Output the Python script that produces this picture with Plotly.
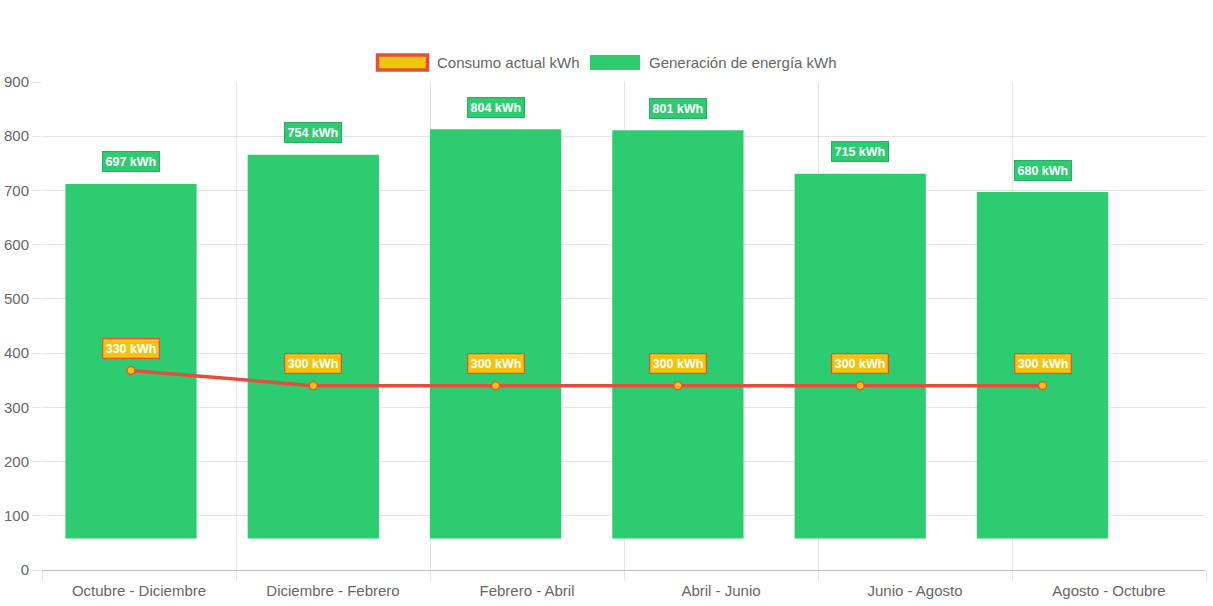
import plotly.graph_objects as go

# ---- data ----
periods = ["Octubre - Diciembre", "Diciembre - Febrero", "Febrero - Abril",
           "Abril - Junio", "Junio - Agosto", "Agosto - Octubre"]
gen_top = [712, 766, 813, 811, 731, 697]          # bar tops as drawn
gen_base = [58, 58, 58, 58, 58, 58]                # bar bottoms as drawn
gen_labels = [697, 754, 804, 801, 715, 680]        # label values
cons_values = [368, 340, 340, 340, 340, 340]       # line points as drawn
cons_labels = [330, 300, 300, 300, 300, 300]       # label values

GREEN = "#2ecc71"
GREEN_DARK = "#27ae60"
YELLOW = "#f1c40f"
RED = "#e74c3c"
FONT = "Liberation Sans, Arial, sans-serif"

W, H = 1213, 606
L, R, T, B = 42, 7, 82, 36
pw, ph = W - L - R, H - T - B

def px(x):
    # page pixel -> paper fraction
    return (x - L) / pw

def py(y):
    return (H - B - y) / ph

fig = go.Figure()

# invisible trace anchoring the labelled category axis
fig.add_trace(go.Scatter(x=periods, y=[None] * len(periods), xaxis="x", yaxis="y",
                         mode="markers", showlegend=False, hoverinfo="skip"))

fig.add_trace(go.Bar(
    x=periods, y=[t - b for t, b in zip(gen_top, gen_base)], base=gen_base,
    xaxis="x2", yaxis="y", marker=dict(color=GREEN, line=dict(width=0)),
    width=0.72, name="Generación de energía kWh", showlegend=False,
    hoverinfo="skip",
))
fig.add_trace(go.Scatter(
    x=periods, y=cons_values, xaxis="x2", yaxis="y", mode="lines+markers",
    line=dict(color=RED, width=3.5),
    marker=dict(size=8, color=YELLOW, line=dict(color=RED, width=1.2)),
    name="Consumo actual kWh", showlegend=False, hoverinfo="skip",
))

annotations = []
for p, v, lab in zip(periods, gen_top, gen_labels):
    annotations.append(dict(
        x=p, y=v, xref="x2", yref="y", text=f"<b>{lab} kWh</b>", showarrow=False,
        yshift=22, font=dict(family=FONT, size=12.5, color="white"),
        bgcolor=GREEN, bordercolor=GREEN_DARK, borderwidth=1, borderpad=2.5,
    ))
for p, v, lab in zip(periods, cons_values, cons_labels):
    annotations.append(dict(
        x=p, y=v, xref="x2", yref="y", text=f"<b>{lab} kWh</b>", showarrow=False,
        yshift=22, font=dict(family=FONT, size=12.5, color="white"),
        bgcolor=YELLOW, bordercolor=RED, borderwidth=1.2, borderpad=2.5,
    ))

# custom legend
shapes = [
    dict(type="rect", xref="paper", yref="paper", x0=px(377.5), x1=px(427.5),
         y0=py(70), y1=py(55), fillcolor=YELLOW, line=dict(color=RED, width=3.5)),
    dict(type="rect", xref="paper", yref="paper", x0=px(590), x1=px(640),
         y0=py(70), y1=py(55), fillcolor=GREEN, line=dict(color=GREEN, width=0)),
]
annotations.append(dict(x=px(435), y=py(62.5), xref="paper", yref="paper",
                        text="Consumo actual kWh", showarrow=False, xanchor="left",
                        yanchor="middle", font=dict(family=FONT, size=15, color="#666")))
annotations.append(dict(x=px(647), y=py(62.5), xref="paper", yref="paper",
                        text="Generación de energía kWh", showarrow=False, xanchor="left",
                        yanchor="middle", font=dict(family=FONT, size=15, color="#666")))

n = len(periods)
r0 = -(131 - 42) / 182.3
r1 = r0 + pw / 182.3

fig.update_layout(
    width=W, height=H,
    margin=dict(l=L, r=R, t=T, b=B, pad=0),
    paper_bgcolor="white", plot_bgcolor="white",
    font=dict(family=FONT, size=15, color="#666"),
    showlegend=False,
    xaxis=dict(type="category", categoryorder="array", categoryarray=periods,
               range=[-0.5, n - 0.5], tickson="boundaries", showgrid=True,
               gridcolor="rgba(0,0,0,0.1)", gridwidth=1, ticks="outside", ticklen=10,
               tickcolor="rgba(0,0,0,0.1)", tickfont=dict(size=15, color="#666"),
               ticklabelstandoff=10,
               showline=False, zeroline=False, automargin=False, fixedrange=True),
    xaxis2=dict(type="category", categoryorder="array", categoryarray=periods,
                overlaying="x", range=[r0, r1], visible=False, fixedrange=True),
    yaxis=dict(range=[0, 900], dtick=100, showgrid=True, gridcolor="rgba(0,0,0,0.1)",
               ticks="outside", ticklen=9, tickcolor="rgba(0,0,0,0.1)",
               tickfont=dict(size=15, color="#666"), zeroline=True,
               zerolinecolor="rgba(0,0,0,0.25)", zerolinewidth=1, showline=False,
               automargin=False, fixedrange=True),
    annotations=annotations, shapes=shapes,
)

fig.write_html("out.html", config={"displayModeBar": False},
               post_script="document.body.style.margin='0';document.body.style.overflow='hidden';")
